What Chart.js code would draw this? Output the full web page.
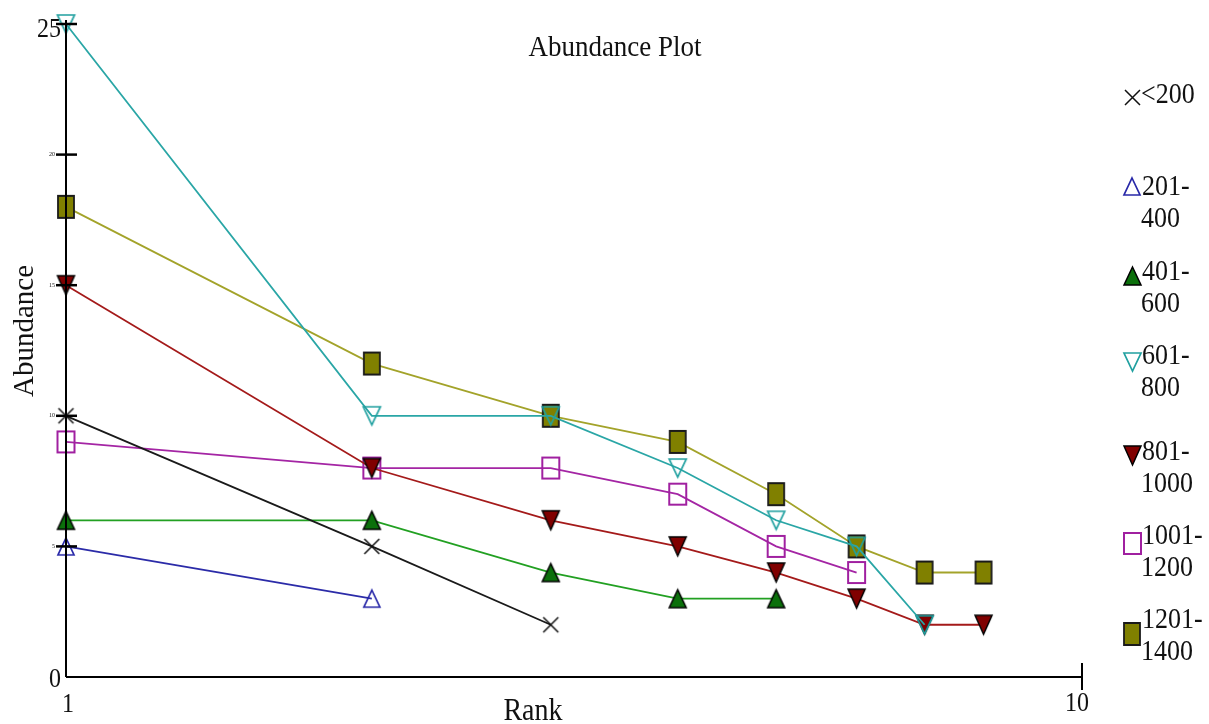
<!DOCTYPE html>
<html>
<head>
<meta charset="utf-8">
<style>
  html, body { margin: 0; padding: 0; background: #ffffff; }
  #wrap { width: 1209px; height: 724px; position: relative; }
</style>
<script src="https://cdn.jsdelivr.net/npm/chart.js@4/dist/chart.umd.min.js"></script>
</head>
<body>
<div id="wrap"><canvas id="chart" width="1209" height="724"></canvas></div>
<script>
// Rank positions on the (log) x axis
const ranks = [1, 2, 3, 4, 5, 6, 7, 8];

// Abundance per size class, in rank order
const seriesLabels = ['<200', '201-400', '401-600', '601-800', '801-1000', '1001-1200', '1201-1400'];
const lt200      = [10, 5, 2];
const s201_400   = [5, 3];
const s401_600   = [6, 6, 4, 3, 3];
const s601_800   = [25, 10, 10, 8, 6, 5, 2];
const s801_1000  = [15, 8, 6, 5, 4, 3, 2, 2];
const s1001_1200 = [9, 8, 8, 7, 5, 4];
const s1201_1400 = [18, 12, 10, 9, 7, 5, 4, 4];

// Axis ticks
const yTicks = [0, 5, 10, 15, 20, 25];
const xTickLabels = ['1', '10'];

const SERIF = '"Liberation Serif", "DejaVu Serif", serif';
const STRETCH = 1.1; // glyphs are drawn slightly taller than wide

function pts(values) {
  return values.map((v, i) => ({ x: ranks[i], y: v }));
}

// Marker glyphs as small canvases, used as point styles
function makeMarker(kind, w, h, stroke, fill, lw) {
  const pad = Math.ceil(lw) + 1;
  const c = document.createElement('canvas');
  c.width = w + pad * 2;
  c.height = h + pad * 2;
  const g = c.getContext('2d');
  g.translate(pad, pad);
  g.lineWidth = lw;
  g.strokeStyle = stroke;
  g.fillStyle = fill;
  g.lineJoin = 'miter';
  g.beginPath();
  if (kind === 'rect') {
    g.rect(0, 0, w, h);
  } else if (kind === 'up') {
    g.moveTo(w / 2, 0); g.lineTo(w, h); g.lineTo(0, h); g.closePath();
  } else if (kind === 'down') {
    g.moveTo(0, 0); g.lineTo(w, 0); g.lineTo(w / 2, h); g.closePath();
  } else if (kind === 'x') {
    g.moveTo(0, 0); g.lineTo(w, h); g.moveTo(w, 0); g.lineTo(0, h);
  }
  if (fill && kind !== 'x') g.fill();
  g.stroke();
  return c;
}

const styles = [
  { line: '#1a1a1a', marker: makeMarker('x', 15, 15, '#111111', null, 1.5) },
  { line: '#2b2ba8', marker: makeMarker('up', 16, 17, '#2828a8', null, 1.7) },
  { line: '#22a022', marker: makeMarker('up', 17, 18, '#000000', '#0b700b', 1.5) },
  { line: '#2aa6a6', marker: makeMarker('down', 17, 18, '#20a0a0', null, 1.7) },
  { line: '#a41a1a', marker: makeMarker('down', 17, 19, '#000000', '#800000', 1.5) },
  { line: '#a425a4', marker: makeMarker('rect', 17, 21, '#a020a0', null, 2) },
  { line: '#a3a32a', marker: makeMarker('rect', 16, 22, '#1a1a1a', '#808000', 1.8) }
];

const seriesValues = [lt200, s201_400, s401_600, s601_800, s801_1000, s1001_1200, s1201_1400];

const datasets = seriesValues.map((vals, i) => ({
  label: seriesLabels[i],
  data: pts(vals),
  borderColor: styles[i].line,
  borderWidth: 1.8,
  backgroundColor: styles[i].line,
  pointStyle: styles[i].marker,
  pointRadius: 9,
  tension: 0,
  clip: false
}));

function stretchedText(ctx, text, x, y) {
  ctx.save();
  ctx.translate(x, y);
  ctx.scale(1, STRETCH);
  ctx.fillText(text, 0, 0);
  ctx.restore();
}

// Axes, labels, title and side legend drawn on top of the plot
const decorations = {
  id: 'decorations',
  afterDraw(chart) {
    const ctx = chart.ctx;
    const xs = chart.scales.x, ys = chart.scales.y;
    const x0 = xs.getPixelForValue(1), x1 = xs.getPixelForValue(10);
    const y0 = ys.getPixelForValue(0), yTop = ys.getPixelForValue(25);
    ctx.save();
    ctx.strokeStyle = '#000';
    ctx.lineWidth = 2;
    // y axis
    ctx.beginPath();
    ctx.moveTo(x0, y0); ctx.lineTo(x0, yTop - 4);
    ctx.stroke();
    // x axis
    ctx.beginPath();
    ctx.moveTo(x0, y0); ctx.lineTo(x1, y0);
    ctx.stroke();
    // x tick at 10
    ctx.beginPath();
    ctx.moveTo(x1, y0 - 14); ctx.lineTo(x1, y0 + 13);
    ctx.stroke();
    // y ticks crossing the axis
    ctx.lineWidth = 2.5;
    yTicks.forEach(v => {
      if (v === 0) return;
      const y = ys.getPixelForValue(v);
      ctx.beginPath();
      ctx.moveTo(x0 - 10, y); ctx.lineTo(x0 + 11, y);
      ctx.stroke();
    });
    ctx.fillStyle = '#111';
    // y tick labels: ends full size, interior very small
    ctx.textBaseline = 'alphabetic';
    yTicks.forEach(v => {
      const y = ys.getPixelForValue(v);
      if (v === 0 || v === 25) {
        ctx.font = '24px ' + SERIF;
        ctx.textAlign = 'right';
        stretchedText(ctx, String(v), x0 - 5, v === 0 ? y + 10 : y + 13);
      } else {
        ctx.font = '6px ' + SERIF;
        ctx.textAlign = 'right';
        ctx.textBaseline = 'middle';
        ctx.fillText(String(v), x0 - 11, y);
        ctx.textBaseline = 'alphabetic';
      }
    });
    // x tick labels
    ctx.font = '24px ' + SERIF;
    ctx.textAlign = 'center';
    stretchedText(ctx, xTickLabels[0], x0 + 2, y0 + 35);
    stretchedText(ctx, xTickLabels[1], x1 - 5, y0 + 34);
    // title and axis titles
    ctx.font = '27px ' + SERIF;
    stretchedText(ctx, 'Abundance Plot', 615, 56);
    ctx.font = '28px ' + SERIF;
    stretchedText(ctx, 'Rank', 533, 720);
    ctx.save();
    ctx.translate(33, 331);
    ctx.rotate(-Math.PI / 2);
    ctx.font = '29px ' + SERIF;
    ctx.fillText('Abundance', 0, 0);
    ctx.restore();
    // legend
    const legendY = [103, 195, 280, 364, 460, 544, 628];
    const markerY = [97, 186, 276, 362, 455, 543, 634];
    const lineGap = 32;
    ctx.font = '26px ' + SERIF;
    ctx.textAlign = 'left';
    chart.data.datasets.forEach((ds, i) => {
      const img = ds.pointStyle;
      ctx.drawImage(img, Math.round(1132 - img.width / 2), Math.round(markerY[i] - img.height / 2));
      ctx.fillStyle = '#111';
      const y = legendY[i];
      const label = ds.label;
      const dash = label.indexOf('-');
      if (dash < 0) {
        stretchedText(ctx, label, 1141, y);
      } else {
        stretchedText(ctx, label.slice(0, dash + 1), 1142, y);
        stretchedText(ctx, label.slice(dash + 1), 1141, y + lineGap);
      }
    });
    ctx.restore();
  }
};

new Chart(document.getElementById('chart'), {
  type: 'line',
  data: { datasets },
  options: {
    responsive: false,
    animation: false,
    devicePixelRatio: 1,
    layout: { padding: { left: 66, right: 127, top: 24, bottom: 47 } },
    scales: {
      x: { type: 'logarithmic', min: 1, max: 10, display: false },
      y: { type: 'linear', min: 0, max: 25, display: false }
    },
    plugins: {
      legend: { display: false },
      title: { display: false },
      tooltip: { enabled: false }
    }
  },
  plugins: [decorations]
});
</script>
</body>
</html>
